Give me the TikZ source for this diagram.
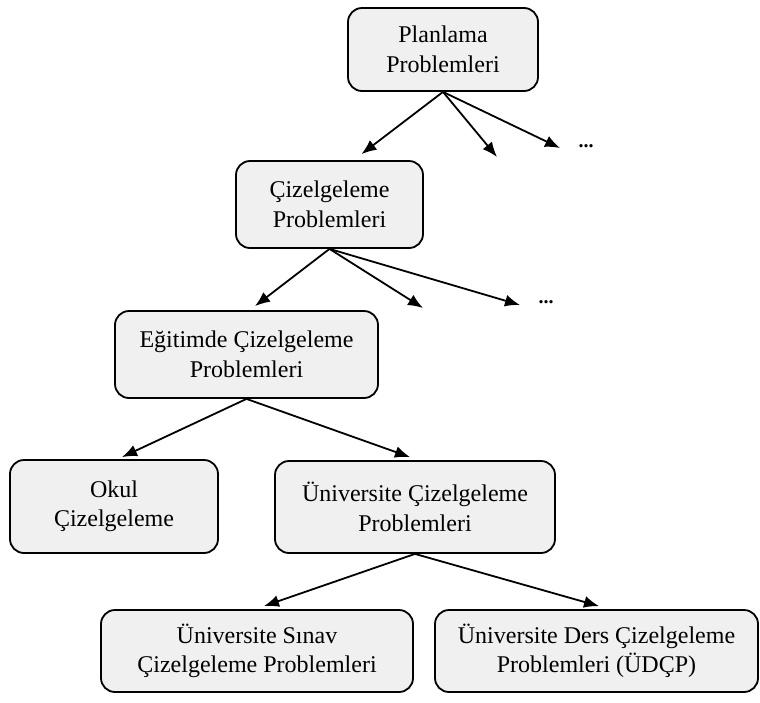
\documentclass[tikz,border=0pt]{standalone}
\usepackage{fontspec}
\setmainfont{Liberation Serif}
\usetikzlibrary{arrows.meta}
\begin{document}
\begin{tikzpicture}[x=1pt,y=-1pt,
  box/.style={draw=black,line width=1.8pt,rounded corners=14pt,fill=gray!12,
    align=center,inner sep=0pt,font=\fontsize{24}{29.5}\selectfont},
  link/.style={line width=1.8pt,-{Latex[length=15pt,width=12pt]}},
  dots/.style={font=\bfseries\fontsize{20}{20}\selectfont,inner sep=0pt}]
\useasboundingbox (0,0) rectangle (760,702);
% tree of problem classes
\node[box,minimum width=190pt,minimum height=83pt] (plan) at (443,49.5) {Planlama\\Problemleri};
\node[box,minimum width=187pt,minimum height=87pt] (ciz) at (329.5,204.5) {Çizelgeleme\\Problemleri};
\node[box,minimum width=263pt,minimum height=87pt] (egt) at (246.5,354.5) {Eğitimde Çizelgeleme\\Problemleri};
\node[box,minimum width=208pt,minimum height=93pt] (okul) at (114,506.5) {Okul\\Çizelgeleme};
\node[box,minimum width=280pt,minimum height=92pt] (univ) at (415,507) {Üniversite Çizelgeleme\\Problemleri};
\node[box,minimum width=312pt,minimum height=82pt] (sinav) at (257,651) {Üniversite Sınav\\Çizelgeleme Problemleri};
\node[box,minimum width=323pt,minimum height=82pt] (ders) at (596.5,651) {Üniversite Ders Çizelgeleme\\Problemleri (ÜDÇP)};
% open-ended branches
\coordinate (p2) at (497,157);
\coordinate (p3) at (560,148);
\coordinate (c2) at (423,308);
\coordinate (c3) at (520,305);
\node[dots] (pd) at (586,146) {...};
\node[dots] (cd) at (546,302) {...};
% connectors
\draw[link] (plan.south) -- ([xshift=32pt,yshift=6pt]ciz.north);
\draw[link] (plan.south) -- (p2);
\draw[link] (plan.south) -- (p3);
\draw[link] (ciz.south) -- ([xshift=8.5pt,yshift=4pt]egt.north);
\draw[link] (ciz.south) -- (c2);
\draw[link] (ciz.south) -- (c3);
\draw[link] (egt.south) -- ([xshift=8pt,yshift=2pt]okul.north);
\draw[link] (egt.south) -- ([xshift=-5pt,yshift=3pt]univ.north);
\draw[link] (univ.south) -- ([xshift=7pt,yshift=3pt]sinav.north);
\draw[link] (univ.south) -- ([xshift=2.5pt,yshift=3pt]ders.north);
\end{tikzpicture}
\end{document}
